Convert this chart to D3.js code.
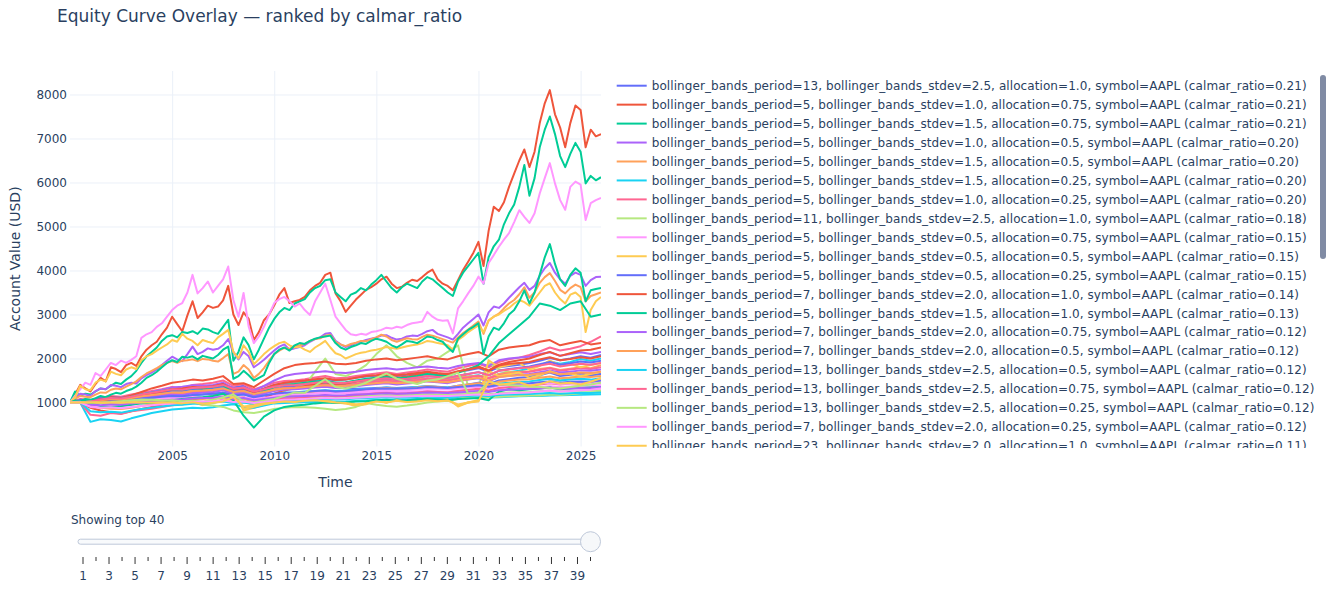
<!DOCTYPE html>
<html lang="en">
<head>
<meta charset="utf-8">
<title>Equity Curve Overlay</title>
<script src="https://cdn.jsdelivr.net/npm/d3@7"></script>
<style>
  html, body { margin: 0; padding: 0; background: #fff; }
  svg { display: block; font-family: "DejaVu Sans", Verdana, sans-serif; }
</style>
</head>
<body>
<div id="chart"></div>
<script>
// ---- data -------------------------------------------------------------
// legend parameters for the 20 entries visible in the legend box
var periods     = [13, 5, 5, 5, 5, 5, 5, 11, 5, 5, 5, 7, 5, 7, 7, 13, 13, 13, 7, 23];
var stdevs      = ["2.5","1.0","1.5","1.0","1.5","1.5","1.0","2.5","0.5","0.5","0.5","2.0","1.5","2.0","2.0","2.5","2.5","2.5","2.0","2.0"];
var allocations = ["1.0","0.75","0.75","0.5","0.5","0.25","0.25","1.0","0.75","0.5","0.25","1.0","1.0","0.75","0.5","0.5","0.75","0.25","0.25","1.0"];
var calmar      = ["0.21","0.21","0.21","0.20","0.20","0.20","0.20","0.18","0.15","0.15","0.15","0.14","0.13","0.12","0.12","0.12","0.12","0.12","0.12","0.11"];

var yTickValues = [1000, 2000, 3000, 4000, 5000, 6000, 7000, 8000];
var xTickYears  = [2005, 2010, 2015, 2020, 2025];
var stepLabels  = d3.range(1, 41);
var shownTop    = 40;

// account values, quarterly samples (105 values, Jan 2000 .. Jan 2026)
var eq02 = [1000,1180,1400,1320,1250,1420,1560,1480,1800,1760,1690,1850,1900,1830,2050,2200,2300,2380,2550,2700,
  2950,2780,2620,2980,3300,2920,3050,3200,3150,3180,3320,3650,3000,2760,3050,2900,2420,2600,2870,3000,
  3210,3450,3600,3260,3300,3330,3400,3550,3650,3720,3900,3950,3480,3300,3060,3200,3340,3450,3560,3620,
  3700,3800,3860,3700,3600,3630,3720,3790,3760,3850,3950,4020,3800,3700,3650,3550,3780,4010,4200,4400,
  4650,4100,4900,5450,5350,5550,5900,6200,6500,6750,6350,6700,7350,7800,8100,7550,7250,6800,7350,7750,
  7650,6800,7200,7050,7100];
var eq03 = [1000,1250,1150,1200,1180,1250,1320,1300,1380,1450,1420,1520,1600,1720,1900,2050,2150,2250,2400,2500,
  2530,2480,2600,2580,2620,2560,2680,2660,2600,2560,2720,2880,1950,2150,2480,2300,1980,2200,2450,2700,
  2900,3050,3150,3100,3250,3300,3350,3500,3600,3650,3780,3800,3500,3400,3300,3450,3500,3600,3550,3680,
  3780,3900,3750,3600,3500,3620,3700,3650,3600,3750,3850,3800,3700,3600,3500,3420,3750,3950,4100,4250,
  4400,3700,4300,4550,4700,5050,5300,5500,5900,6400,5700,6100,6800,7200,7500,7100,6600,6350,6650,6900,
  6700,5980,6150,6050,6120];
var eq04 = [1000,1100,1200,1180,1150,1260,1320,1300,1400,1380,1350,1420,1450,1430,1550,1620,1680,1750,1850,1950,
  2040,1980,1940,2100,2270,2100,2150,2230,2200,2220,2300,2440,2150,1980,2150,2050,1800,1880,1970,2080,
  2180,2270,2320,2200,2230,2260,2300,2380,2440,2480,2560,2580,2400,2320,2260,2300,2350,2380,2420,2450,
  2480,2520,2530,2470,2430,2450,2500,2520,2510,2560,2620,2650,2560,2520,2480,2430,2560,2700,2800,2900,
  3000,2750,3050,3180,3150,3250,3380,3500,3620,3720,3560,3650,3880,4050,4170,3950,3800,3700,3880,3950,
  3900,3650,3780,3850,3860];
var eq05 = [1000,1080,1150,1130,1120,1180,1230,1220,1290,1320,1300,1360,1420,1480,1580,1660,1720,1780,1850,1900,
  1940,1900,1950,1960,1980,1940,1990,1980,1950,1930,2010,2100,1650,1700,1850,1750,1560,1650,1780,1950,
  2100,2180,2240,2220,2280,2300,2330,2400,2440,2460,2520,2540,2380,2320,2280,2330,2360,2400,2390,2440,
  2480,2540,2500,2420,2380,2420,2460,2440,2430,2490,2540,2520,2480,2440,2400,2360,2480,2580,2660,2750,
  2840,2560,2860,2950,3020,3140,3250,3330,3460,3620,3380,3500,3720,3850,3940,3760,3560,3480,3600,3680,
  3620,3300,3420,3460,3500];
var eq09 = [1000,1150,1300,1450,1400,1670,1600,1750,1900,1850,1950,1900,1970,2050,2470,2550,2600,2720,2800,2950,
  3100,3200,3260,3500,3900,3480,3600,3750,3500,3650,3800,4090,3330,2950,3490,2720,2350,2500,2720,3000,
  3260,3350,3400,3300,3180,3250,3100,2990,3300,3500,3700,3330,2950,2800,2650,2550,2530,2560,2540,2600,
  2620,2650,2700,2680,2720,2700,2760,2800,2820,2840,3060,2950,2880,2860,2870,2570,3140,3300,3480,3650,
  3860,3700,4170,4350,4540,4700,4850,5100,5370,5220,5080,5300,5750,6100,6440,5980,5600,5380,5900,6020,
  5950,5150,5530,5600,5650];
var eq10 = [1000,1120,1380,1300,1280,1450,1520,1480,1700,1650,1620,1750,1800,1760,1960,2050,2100,2180,2250,2320,
  2420,2380,2560,2450,2400,2300,2420,2380,2350,2480,2560,2650,2150,2000,2300,2150,1870,1980,2100,2200,
  2280,2350,2380,2300,2250,2270,2200,2150,2250,2320,2400,2250,2120,2080,2000,2050,2100,2130,2150,2180,
  2200,2230,2260,2240,2220,2250,2280,2300,2320,2350,2400,2380,2350,2330,2300,2200,2420,2500,2600,2680,
  2750,2600,2870,2950,3000,3080,3150,3250,3330,3280,3200,3350,3500,3650,3710,3500,3350,3250,3450,3500,
  3400,2600,3100,3300,3400];
var eq13 = [1000,1050,1020,1080,1060,1100,1150,1120,1180,1220,1200,1260,1300,1360,1450,1560,1620,1700,1800,1900,
  1960,1920,2040,2020,2050,1980,2060,2030,2000,2080,2200,2270,1540,1600,1720,1620,1500,1560,1620,1900,
  2100,2200,2250,2180,2300,2350,2330,2400,2450,2480,2500,2520,2350,2250,2200,2260,2300,2350,2330,2400,
  2450,2420,2380,2300,2250,2320,2400,2380,2350,2420,2500,2480,2420,2380,2250,2150,2450,2550,2650,2720,
  2800,2100,2500,2700,2650,2800,3000,3100,3300,3550,3250,3500,3900,4300,4600,4150,3800,3650,3900,4050,
  3950,3300,3550,3580,3600];

// account values, half-yearly samples (53 values, Jan 2000 .. Jan 2026)
var eq01 = [1000,1000,1020,1050,1080,1060,1110,1150,1190,1220,1260,1240,1300,1330,1360,1400,1340,1380,1250,1320,1400,1440,1450,1480,1510,1540,1500,1520,1560,1590,1610,1640,1600,1630,1660,1690,1650,1640,1700,1730,1780,1700,1800,1830,1860,1900,1950,2010,1960,2000,2050,2020,2080];
var eq06 = [1000,1060,1040,1080,1100,1090,1130,1170,1200,1230,1260,1250,1280,1290,1300,1330,1240,1280,1200,1260,1330,1360,1380,1400,1430,1450,1410,1420,1450,1470,1490,1500,1480,1500,1510,1530,1520,1500,1560,1590,1620,1550,1650,1690,1720,1780,1850,1930,1880,1920,1990,1950,2000];
var eq07 = [1000,1080,1060,1110,1150,1130,1180,1220,1260,1300,1350,1320,1400,1420,1450,1500,1380,1420,1300,1370,1450,1490,1500,1530,1570,1600,1550,1560,1600,1630,1660,1690,1650,1680,1710,1750,1720,1700,1780,1830,1880,1800,1920,1980,2020,2080,2160,2250,2180,2220,2280,2380,2500];
var eq08 = [1000,1000,1010,1040,1020,1060,1080,1120,1100,1060,1080,1020,1050,1000,1080,1200,1310,1000,980,1050,1120,1250,1400,1380,1700,2000,1650,1600,1700,1850,2100,2300,2050,1900,1800,1950,2000,2150,2300,1350,1400,1900,1750,1700,1650,1600,1580,1520,1500,1560,1600,1620,1650];
var eq11 = [1000,1060,1050,1100,1120,1110,1140,1180,1200,1230,1270,1280,1340,1320,1350,1400,1280,1320,1230,1290,1350,1370,1360,1340,1380,1400,1350,1320,1310,1320,1330,1340,1330,1340,1350,1370,1360,1340,1380,1410,1450,1420,1500,1530,1560,1580,1620,1680,1600,1630,1660,1620,1650];
var eq12 = [1000,1000,1020,1080,1120,1100,1160,1240,1320,1380,1450,1480,1520,1500,1540,1600,1420,1440,1350,1500,1650,1780,1850,1880,1900,1930,1880,1870,1900,1950,1980,2000,1960,1990,2020,2050,2000,1980,2050,2100,2150,2050,2200,2250,2280,2300,2380,2420,2300,2350,2400,2320,2350];
var eq14 = [1000,1000,1015,1060,1090,1075,1120,1180,1240,1290,1340,1360,1390,1380,1400,1450,1320,1340,1270,1380,1500,1600,1650,1670,1690,1710,1680,1670,1700,1740,1760,1780,1750,1770,1800,1820,1790,1770,1830,1870,1900,1830,1960,2000,2020,2040,2100,2140,2060,2100,2140,2100,2150];
var eq15 = [1000,1000,1010,1040,1060,1050,1080,1120,1160,1190,1230,1240,1260,1250,1270,1300,1210,1230,1180,1250,1330,1400,1430,1450,1460,1470,1450,1440,1460,1490,1510,1520,1500,1510,1530,1550,1530,1520,1560,1590,1610,1560,1650,1680,1700,1710,1760,1790,1740,1770,1800,1780,1850];
var eq16 = [1000,1000,1005,1020,1040,1030,1055,1080,1100,1120,1140,1130,1160,1180,1200,1220,1170,1190,1120,1160,1200,1220,1230,1250,1260,1280,1260,1270,1290,1310,1320,1340,1320,1330,1350,1370,1350,1340,1370,1390,1420,1380,1430,1450,1470,1480,1510,1540,1500,1520,1540,1520,1550];
var eq17 = [1000,1000,1010,1030,1060,1045,1080,1120,1150,1180,1210,1200,1240,1260,1290,1320,1240,1270,1180,1240,1300,1330,1340,1370,1390,1410,1380,1390,1420,1450,1470,1500,1470,1490,1510,1540,1510,1500,1540,1570,1610,1550,1620,1650,1680,1700,1740,1780,1720,1750,1780,1760,1800];
var eq18 = [1000,1000,1003,1010,1020,1015,1030,1040,1050,1060,1070,1065,1080,1090,1100,1110,1085,1095,1060,1080,1100,1110,1115,1125,1130,1140,1130,1135,1145,1155,1160,1170,1160,1165,1175,1185,1175,1170,1185,1195,1210,1190,1215,1225,1235,1240,1255,1270,1250,1260,1270,1265,1280];
var eq19 = [1000,1000,1005,1020,1030,1025,1040,1060,1080,1095,1110,1115,1125,1120,1130,1145,1105,1115,1090,1120,1160,1190,1200,1210,1215,1220,1210,1205,1215,1230,1240,1245,1235,1240,1250,1260,1250,1245,1265,1280,1290,1270,1310,1320,1330,1335,1355,1370,1350,1365,1380,1370,1400];
var eq20 = [1000,1000,1000,1000,1000,1000,1000,1000,1000,1000,1000,960,1010,940,990,1050,1250,820,880,950,1000,1050,1020,1080,1100,1060,1000,980,920,960,1050,1000,1080,1020,1050,1100,1060,1090,910,1000,1050,1960,1800,1850,1900,1750,1830,1950,1850,1880,1800,1850,1900];
var eq21 = [1000,1030,1010,1060,1090,1080,1120,1160,1200,1240,1280,1270,1310,1300,1330,1370,1290,1310,1240,1300,1360,1390,1400,1420,1450,1470,1440,1450,1480,1510,1530,1550,1520,1540,1570,1600,1580,1560,1610,1650,1690,1620,1720,1760,1790,1820,1870,1920,1860,1890,1930,1910,1950];
var eq22 = [1000,1000,880,820,780,750,800,850,900,950,1000,1030,1080,1100,1150,1220,1080,1120,1000,1100,1200,1280,1320,1370,1420,1460,1420,1430,1480,1520,1560,1600,1560,1590,1630,1680,1650,1620,1700,1760,1820,1730,1860,1920,1960,2000,2080,2150,2060,2120,2180,2200,2250];
var eq23 = [1000,1040,1020,1060,1100,1080,1130,1180,1220,1260,1300,1290,1330,1320,1350,1400,1200,1250,1150,1250,1350,1400,1420,1450,1480,1500,1450,1460,1500,1540,1560,1580,1550,1570,1600,1650,1620,1600,1680,1750,1850,2050,2350,2550,2750,2950,3250,3200,3100,3250,3300,2950,3000];
var eq24 = [1000,1020,960,990,1020,1010,1050,1090,1120,1150,1180,1170,1210,1220,1240,1280,1200,1220,1150,1200,1260,1290,1300,1320,1340,1360,1330,1340,1370,1400,1420,1440,1410,1430,1450,1480,1460,1440,1490,1520,1550,1480,1580,1610,1630,1650,1690,1730,1680,1700,1730,1720,1750];
var eq25 = [1000,1000,920,880,860,850,880,920,960,1000,1040,1060,1100,1080,1110,1150,1060,1090,1000,1060,1120,1160,1180,1200,1230,1250,1220,1230,1260,1290,1310,1330,1310,1320,1340,1370,1350,1330,1380,1410,1440,1390,1470,1500,1520,1530,1560,1590,1550,1570,1590,1580,1600];
var eq26 = [1000,1000,560,620,600,570,640,700,760,800,840,860,880,870,890,930,960,900,880,930,980,990,1000,1005,1010,1020,1015,1020,1035,1045,1055,1060,1060,1070,1080,1090,1095,1090,1100,1105,1110,1115,1120,1130,1140,1145,1150,1160,1165,1170,1175,1180,1185];
var eq27 = [1000,1000,720,700,760,740,800,830,860,900,940,960,990,1000,1020,1060,1010,1030,950,1000,1060,1090,1100,1120,1140,1160,1140,1150,1170,1190,1210,1220,1200,1210,1230,1250,1240,1230,1260,1290,1310,1270,1330,1350,1370,1380,1410,1440,1410,1430,1450,1470,1500];
var eq28 = [1000,1000,1020,1000,980,1010,1040,1060,1080,1040,1020,980,1000,950,930,900,820,780,760,800,850,880,900,890,880,860,830,850,900,990,950,920,906,930,960,1000,1020,1040,1080,1130,1100,1120,1130,1140,1150,1160,1160,1180,1170,1190,1210,1230,1245];
var eq29 = [1000,1000,930,900,920,910,950,980,1010,1040,1070,1080,1110,1120,1140,1170,1100,1120,1060,1100,1140,1170,1180,1190,1210,1230,1210,1220,1240,1260,1270,1280,1270,1280,1300,1320,1310,1300,1320,1340,1360,1330,1380,1390,1400,1410,1430,1450,1420,1430,1440,1430,1450];
var eq30 = [1000,1000,1000,1000,1000,1000,1000,1000,1000,1000,1000,970,1008,955,992,1038,1190,860,905,960,1000,1038,1015,1060,1075,1045,1000,985,940,970,1038,1000,1060,1015,1038,1075,1045,1068,930,1000,1038,1720,1600,1640,1680,1560,1620,1710,1640,1660,1600,1650,1700];
var eq31 = [1000,1000,1000,1020,1040,1030,1060,1090,1110,1130,1150,1140,1170,1180,1200,1220,1160,1180,1120,1160,1200,1220,1230,1240,1260,1270,1250,1260,1280,1300,1310,1320,1310,1320,1330,1350,1340,1330,1350,1370,1390,1360,1400,1420,1430,1440,1460,1480,1450,1470,1480,1470,1500];
var eq32 = [1000,1000,1000,1040,1080,1060,1100,1150,1200,1250,1300,1320,1350,1340,1370,1420,1300,1330,1230,1310,1400,1450,1480,1500,1530,1550,1510,1520,1560,1600,1620,1650,1620,1640,1670,1700,1670,1650,1710,1750,1800,1720,1840,1880,1900,1920,1980,2030,1960,1990,2030,2000,2050];
var eq33 = [1000,1000,980,920,900,920,950,980,1000,1020,1050,1080,1100,1120,1150,1200,1050,700,430,680,820,900,930,950,980,1000,990,1000,1020,1030,1050,1060,1040,1050,1070,1080,1070,1050,1080,1090,1100,1050,1250,1300,1280,1300,1320,1340,1300,1320,1330,1340,1350];
var eq34 = [1000,1000,950,940,960,950,980,1000,1020,1040,1060,1070,1090,1100,1110,1130,1080,1100,1050,1080,1110,1130,1140,1150,1160,1170,1160,1165,1180,1190,1200,1210,1200,1205,1215,1225,1220,1215,1230,1245,1260,1240,1280,1290,1300,1305,1320,1335,1310,1320,1330,1325,1350];
var eq35 = [1000,1000,1010,1050,1080,1070,1100,1140,1170,1200,1230,1220,1260,1270,1290,1320,1240,1260,1190,1240,1290,1320,1330,1350,1370,1390,1370,1380,1400,1420,1440,1460,1440,1450,1470,1490,1470,1460,1500,1530,1560,1500,1580,1600,1620,1630,1660,1690,1640,1660,1680,1670,1700];
var eq36 = [1000,1000,800,780,790,770,810,850,880,910,940,950,970,980,1000,1020,990,1000,960,990,1020,1040,1050,1060,1070,1080,1070,1075,1090,1100,1110,1120,1110,1115,1125,1135,1130,1125,1140,1150,1160,1150,1170,1180,1190,1195,1205,1215,1200,1210,1220,1215,1230];
var eq37 = [1000,1000,1020,1070,1100,1090,1130,1180,1220,1260,1300,1290,1330,1340,1360,1400,1310,1340,1250,1300,1360,1390,1400,1420,1450,1470,1440,1450,1480,1510,1530,1550,1520,1540,1570,1600,1580,1560,1610,1650,1690,1620,1720,1750,1780,1800,1840,1880,1820,1850,1880,1860,1900];
var eq38 = [1000,1000,1000,1000,1010,1030,1050,1070,1060,1040,1050,1030,1040,1020,1060,1120,1180,1020,1000,1040,1080,1150,1230,1220,1380,1530,1350,1320,1370,1450,1560,1660,1540,1470,1420,1500,1520,1600,1680,1200,1230,1480,1420,1400,1380,1360,1350,1330,1320,1350,1380,1410,1450];
var eq39 = [1000,1000,900,880,890,870,900,920,940,960,980,990,1010,1020,1030,1050,1010,1020,990,1010,1040,1060,1070,1080,1090,1100,1090,1095,1110,1120,1130,1140,1130,1135,1145,1155,1150,1145,1160,1170,1180,1170,1200,1210,1220,1230,1250,1270,1250,1260,1280,1290,1320];
var eq40 = [1000,1000,1000,1000,1000,1000,1000,1000,1000,1000,1000,980,1005,970,995,1025,1125,910,940,975,1000,1025,1010,1040,1050,1030,1000,990,960,980,1025,1000,1040,1010,1025,1050,1030,1045,955,1000,1025,1480,1400,1430,1460,1380,1420,1480,1430,1450,1410,1470,1550];

// ranked order (rank 1 first)
var curves = [eq01, eq02, eq03, eq04, eq05, eq06, eq07, eq08, eq09, eq10,
              eq11, eq12, eq13, eq14, eq15, eq16, eq17, eq18, eq19, eq20,
              eq21, eq22, eq23, eq24, eq25, eq26, eq27, eq28, eq29, eq30,
              eq31, eq32, eq33, eq34, eq35, eq36, eq37, eq38, eq39, eq40];

var colorway = ["#636efa", "#EF553B", "#00cc96", "#ab63fa", "#FFA15A",
                "#19d3f3", "#FF6692", "#B6E880", "#FF97FF", "#FECB52"];

// ---- layout -----------------------------------------------------------
var width = 1328, height = 589;
var plot = {left: 70, right: 601, top: 71, bottom: 446.5};
var textColor = "#2a3f5f", gridColor = "#EBF0F8";

var start = new Date(Date.UTC(2000, 0, 1)), end = new Date(Date.UTC(2026, 0, 1));
var quarterDates = d3.utcMonth.every(3).range(start, new Date(Date.UTC(2026, 0, 2)));
var halfDates = d3.utcMonth.every(6).range(start, new Date(Date.UTC(2026, 0, 2)));

var svg = d3.select("#chart").append("svg")
  .attr("width", width)
  .attr("height", height);

svg.append("rect").attr("width", width).attr("height", height).attr("fill", "#fff");

var x = d3.scaleUtc().domain([start, end]).range([plot.left, plot.right]);
var y = d3.scaleLinear().domain([0, 8534]).range([plot.bottom, plot.top]);

// title
svg.append("text")
  .attr("x", 57)
  .attr("y", 22)
  .attr("fill", textColor)
  .style("font-size", "17px")
  .text("Equity Curve Overlay \u2014 ranked by calmar_ratio");

// gridlines + tick labels
var yAxis = svg.append("g")
  .attr("transform", "translate(" + plot.left + ",0)")
  .call(d3.axisLeft(y).tickValues(yTickValues).tickSize(-(plot.right - plot.left)).tickPadding(3).tickFormat(d3.format("d")));
var xAxis = svg.append("g")
  .attr("transform", "translate(0," + plot.bottom + ")")
  .call(d3.axisBottom(x).tickValues(xTickYears.map(function(yr) { return new Date(Date.UTC(yr, 0, 1)); }))
    .tickSize(-(plot.bottom - plot.top)).tickPadding(5).tickFormat(d3.utcFormat("%Y")));

[xAxis, yAxis].forEach(function(ax) {
  ax.select(".domain").remove();
  ax.selectAll(".tick line").attr("stroke", gridColor).attr("stroke-width", 1);
  ax.selectAll(".tick text")
    .attr("fill", textColor)
    .style("font-size", "12px")
    .style("font-family", "DejaVu Sans, Verdana, sans-serif");
});

// axis titles
svg.append("text")
  .attr("x", (plot.left + plot.right) / 2)
  .attr("y", 487)
  .attr("text-anchor", "middle")
  .attr("fill", textColor)
  .style("font-size", "14px")
  .text("Time");

svg.append("text")
  .attr("transform", "translate(20," + ((plot.top + plot.bottom) / 2) + ") rotate(-90)")
  .attr("text-anchor", "middle")
  .attr("fill", textColor)
  .style("font-size", "14px")
  .text("Account Value (USD)");

// curves
svg.append("clipPath").attr("id", "plotClip")
  .append("rect")
  .attr("x", plot.left).attr("y", plot.top)
  .attr("width", plot.right - plot.left).attr("height", plot.bottom - plot.top);

var line = d3.line()
  .x(function(d) { return x(d.date); })
  .y(function(d) { return y(d.value); });

var lines = svg.append("g").attr("clip-path", "url(#plotClip)");
curves.slice(0, shownTop).forEach(function(values, i) {
  var dates = values.length === quarterDates.length ? quarterDates : halfDates;
  var pts = values.map(function(v, k) { return {date: dates[k], value: v}; });
  lines.append("path")
    .datum(pts)
    .attr("fill", "none")
    .attr("stroke", colorway[i % colorway.length])
    .attr("stroke-width", 2)
    .attr("stroke-linejoin", "round")
    .attr("d", line);
});

// legend (scrollable box, only the top part visible)
svg.append("clipPath").attr("id", "legendClip")
  .append("rect").attr("x", 608).attr("y", 74).attr("width", 712).attr("height", 374);

var legend = svg.append("g").attr("clip-path", "url(#legendClip)");
periods.forEach(function(p, i) {
  var label = "bollinger_bands_period=" + p + ", bollinger_bands_stdev=" + stdevs[i] +
    ", allocation=" + allocations[i] + ", symbol=AAPL (calmar_ratio=" + calmar[i] + ")";
  var g = legend.append("g").attr("transform", "translate(0," + (85.7 + i * 18.95) + ")");
  g.append("line")
    .attr("x1", 616.7).attr("x2", 646.7)
    .attr("stroke", colorway[i % colorway.length])
    .attr("stroke-width", 2);
  g.append("text")
    .attr("x", 651.7)
    .attr("y", 4.4)
    .attr("fill", textColor)
    .style("font-size", "12px")
    .style("letter-spacing", "0.08px")
    .text(label);
});

// legend scrollbar
svg.append("rect")
  .attr("x", 1320).attr("y", 75)
  .attr("width", 6).attr("height", 184)
  .attr("rx", 3)
  .attr("fill", "#808BA4");

// slider
var sx = d3.scaleLinear().domain([1, 40]).range([83, 590.5]);

svg.append("text")
  .attr("x", 71)
  .attr("y", 524)
  .attr("fill", textColor)
  .style("font-size", "12px")
  .text("Showing top " + shownTop);

svg.append("rect")
  .attr("x", 78).attr("y", 539.2)
  .attr("width", 520).attr("height", 5)
  .attr("rx", 2.5)
  .attr("fill", "#F8FAFC")
  .attr("stroke", "#BEC8D9");

var ticks = svg.append("g");
stepLabels.forEach(function(s, i) {
  var major = i % 2 === 0;
  ticks.append("line")
    .attr("x1", sx(s)).attr("x2", sx(s))
    .attr("y1", 557).attr("y2", major ? 564 : 561)
    .attr("stroke", "#333")
    .attr("stroke-width", 1);
  if (major) {
    ticks.append("text")
      .attr("x", sx(s))
      .attr("y", 580)
      .attr("text-anchor", "middle")
      .attr("fill", textColor)
      .style("font-size", "12px")
      .text(s);
  }
});

svg.append("circle")
  .attr("cx", sx(shownTop)).attr("cy", 541.7)
  .attr("r", 10)
  .attr("fill", "#F6F8FA")
  .attr("stroke", "#BEC8D9");
</script>
</body>
</html>
